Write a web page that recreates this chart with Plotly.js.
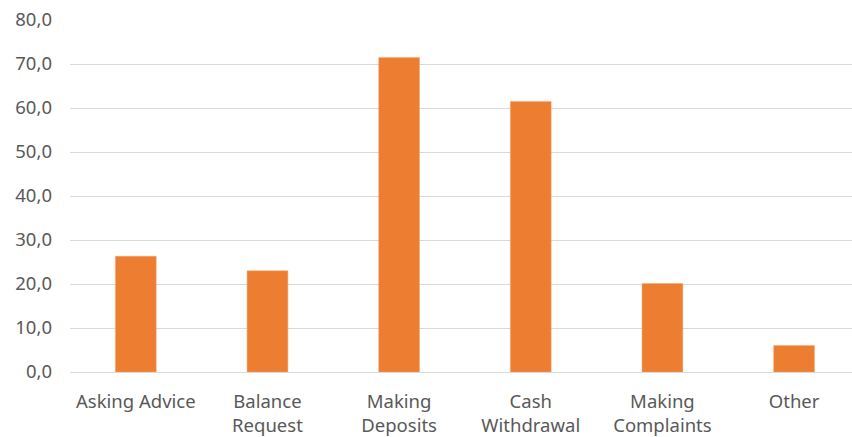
<!DOCTYPE html>
<html>
<head>
<meta charset="utf-8">
<script src="https://cdn.plot.ly/plotly-3.0.1.min.js"></script>
<style>html,body{margin:0;padding:0;background:#fff;}#chart{width:852px;height:437px;}</style>
</head>
<body>
<div id="chart"></div>
<script>
const categories = ["Asking Advice", "Balance<br>Request", "Making<br>Deposits", "Cash<br>Withdrawal", "Making<br>Complaints", "Other"];
const values = [26.3, 23.0, 71.5, 61.5, 20.1, 6.0];
const yTicks = [0, 10, 20, 30, 40, 50, 60, 70, 80];

const trace = {
  type: 'bar',
  x: categories,
  y: values,
  marker: {color: '#ED7D31', line: {color: '#F4A66E', width: 0.5}},
  hoverinfo: 'x+y'
};

const layout = {
  width: 852,
  height: 437,
  margin: {l: 70, r: 0, t: 20, b: 65},
  paper_bgcolor: '#ffffff',
  plot_bgcolor: '#ffffff',
  separators: ',.',
  bargap: 0.69,
  showlegend: false,
  font: {family: 'Noto Sans, sans-serif', size: 18, color: '#595959'},
  xaxis: {
    type: 'category',
    range: [-0.5, 5.44],
    showgrid: false,
    showline: false,
    ticks: '',
    ticklabelstandoff: 16,
    tickfont: {size: 18.5, color: '#595959'},
    fixedrange: true
  },
  yaxis: {
    range: [0, 80],
    tickvals: yTicks,
    tickformat: '.1f',
    showgrid: true,
    gridcolor: '#d9d9d9',
    gridwidth: 1,
    zeroline: true,
    zerolinecolor: '#d9d9d9',
    zerolinewidth: 1,
    showline: false,
    ticks: '',
    ticklabelstandoff: 17,
    tickfont: {size: 18.5, color: '#595959'},
    fixedrange: true
  }
};

Plotly.newPlot('chart', [trace], layout, {displayModeBar: false, staticPlot: true});
</script>
</body>
</html>
